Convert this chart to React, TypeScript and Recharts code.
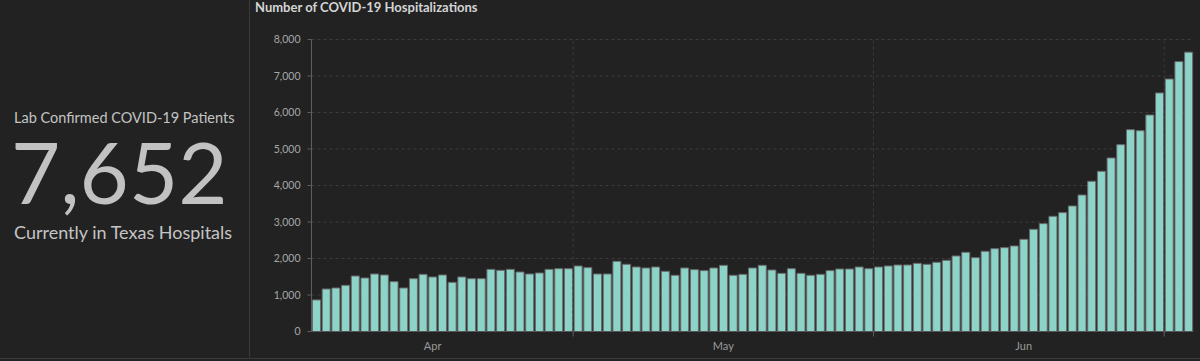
import React from "react";
import { BarChart, Bar, XAxis, YAxis, CartesianGrid, ReferenceLine } from "recharts";

// Daily lab-confirmed COVID-19 hospitalizations in Texas, starting 2020-04-04
const START_DATE = "2020-04-04";
const VALUES = [
  865, 1164, 1192, 1265, 1520, 1466, 1575, 1548, 1365, 1192,
  1447, 1566, 1493, 1548, 1347, 1493, 1447, 1447, 1703, 1676,
  1703, 1630, 1575, 1603, 1703, 1721, 1721, 1795, 1749, 1575,
  1575, 1923, 1841, 1767, 1740, 1767, 1649, 1540, 1740, 1694,
  1667, 1740, 1813, 1540, 1566, 1740, 1813, 1685, 1594, 1721,
  1594, 1540, 1566, 1667, 1712, 1712, 1767, 1721, 1767, 1795,
  1822, 1822, 1868, 1841, 1896, 1950, 2069, 2170, 2022, 2197,
  2269, 2297, 2343, 2526, 2800, 2955, 3156, 3256, 3439, 3740,
  4115, 4389, 4754, 5118, 5529, 5502, 5932, 6535, 6918, 7393,
  7652,
];
const Y_TICKS = [0, 1000, 2000, 3000, 4000, 5000, 6000, 7000, 8000];
const MONTH_BOUNDARIES = ["2020-05-01", "2020-06-01", "2020-07-01"];
const MONTH_LABEL_DATES = ["2020-04-16", "2020-05-16", "2020-06-16"];
const MONTH_LABELS = ["Apr", "May", "Jun"];

const TITLE = "Number of COVID-19 Hospitalizations";
const KPI_TOP = "Lab Confirmed COVID-19 Patients";
const KPI_VALUE = "7,652";
const KPI_BOTTOM = "Currently in Texas Hospitals";

const start = new Date(START_DATE + "T00:00:00Z");
const DATES = VALUES.map((_, i) => {
  const d = new Date(start.getTime() + i * 86400000);
  return d.toISOString().slice(0, 10);
});
const data = DATES.map((date, i) => ({ date, value: VALUES[i] }));

const FONT = "Lato, 'Open Sans', sans-serif";

const XTick = (props: any) => {
  const { x, y, payload } = props;
  const v: string = payload.value;
  const half = payload.offset != null ? payload.offset : 4.85;
  const els: any[] = [];
  if (MONTH_BOUNDARIES.includes(v)) {
    els.push(
      <line key="t" x1={x - half} x2={x - half} y1={y} y2={y + 5} stroke="#5e5e5e" strokeWidth={1} />
    );
  }
  const li = MONTH_LABEL_DATES.indexOf(v);
  if (li >= 0) {
    els.push(
      <text
        key="l"
        x={x}
        y={y + 14}
        textAnchor="middle"
        dominantBaseline="central"
        fill="#9a9a9a"
        fontSize={11}
        fontFamily={FONT}
      >
        {MONTH_LABELS[li]}
      </text>
    );
  }
  return <g>{els}</g>;
};

export default function App() {
  return (
    <div
      style={{
        position: "fixed",
        left: 0,
        top: 0,
        width: 1200,
        height: 361,
        background: "#222222",
        overflow: "hidden",
        fontFamily: FONT,
      }}
    >
      {/* left KPI panel */}
      <div
        style={{
          position: "absolute",
          left: 0,
          top: 0,
          width: 249,
          height: 358,
          borderRight: "1px solid #3a3a3a",
        }}
      />
      <div
        style={{
          position: "absolute",
          left: 0,
          top: 358,
          width: 1200,
          height: 1,
          background: "#3a3a3a",
        }}
      />
      <div
        style={{
          position: "absolute",
          left: 14,
          top: 109,
          fontSize: 14.5,
          fontWeight: 400,
          color: "#c4c4c4",
          whiteSpace: "nowrap",
          lineHeight: "18px",
        }}
      >
        {KPI_TOP}
      </div>
      <div
        style={{
          position: "absolute",
          left: 11,
          top: 136,
          fontSize: 85,
          fontWeight: 400,
          color: "#c2c2c2",
          whiteSpace: "nowrap",
          lineHeight: "70px",
        }}
      >
        {KPI_VALUE}
      </div>
      <div
        style={{
          position: "absolute",
          left: 14,
          top: 221,
          fontSize: 18,
          fontWeight: 400,
          color: "#c4c4c4",
          whiteSpace: "nowrap",
          lineHeight: "22px",
        }}
      >
        {KPI_BOTTOM}
      </div>

      {/* chart title */}
      <div
        style={{
          position: "absolute",
          left: 255,
          top: 0,
          fontSize: 13,
          fontWeight: 700,
          color: "#d4d4d4",
          whiteSpace: "nowrap",
          lineHeight: "15px",
        }}
      >
        {TITLE}
      </div>

      <div style={{ position: "absolute", left: 250, top: 0 }}>
        <BarChart
          width={950}
          height={361}
          data={data}
          margin={{ top: 39.5, right: 6.7, bottom: 9.5, left: 0 }}
          barCategoryGap={1}
        >
          <CartesianGrid vertical={false} stroke="#3c3c3c" strokeDasharray="3 3" />
          <YAxis
            width={61.5}
            domain={[0, 8000]}
            ticks={Y_TICKS}
            interval={0}
            tickFormatter={(v: number) => v.toLocaleString("en-US")}
            tick={{ fill: "#a6a6a6", fontSize: 10.5, fontFamily: FONT }}
            tickSize={4}
            tickMargin={7}
            axisLine={{ stroke: "#5e5e5e" }}
            tickLine={{ stroke: "#5e5e5e" }}
          />
          <XAxis
            dataKey="date"
            type="category"
            interval={0}
            height={20}
            tickSize={0}
            tickMargin={0}
            tickLine={false}
            axisLine={{ stroke: "#555555" }}
            tick={<XTick />}
          />
          {MONTH_BOUNDARIES.map((d) => (
            <ReferenceLine
              key={d}
              x={d}
              position="start"
              stroke="#3c3c3c"
              strokeDasharray="3 3"
            />
          ))}
          <Bar
            dataKey="value"
            fill="#8dd4c8"
            stroke="#6a6a6a"
            strokeWidth={1}
            isAnimationActive={false}
          />
        </BarChart>
      </div>
    </div>
  );
}
